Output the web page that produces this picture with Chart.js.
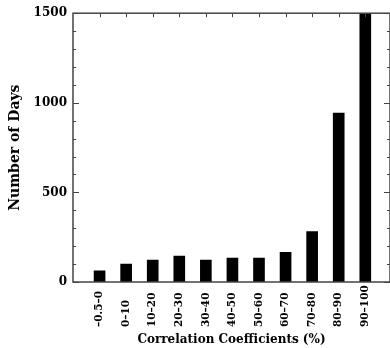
<!DOCTYPE html>
<html>
<head>
<meta charset="utf-8">
<script src="https://cdn.jsdelivr.net/npm/chart.js@4/dist/chart.umd.min.js"></script>
<style>
  html, body { margin: 0; padding: 0; background: #fff; }
  canvas { display: block; }
</style>
</head>
<body>
<canvas id="c" width="390" height="348"></canvas>
<script>
// Correlation-coefficient bins (%) and number of days in each bin
const categories = ['–0.5–0', '0–10', '10–20', '20–30', '30–40', '40–50', '50–60', '60–70', '70–80', '80–90', '90–100'];
const days = [62, 100, 122, 144, 122, 133, 133, 166, 281, 943, 1580];
const yTicks = [0, 500, 1000, 1500];
const yMinorStep = 100;

const SERIF = '"DejaVu Serif", "Liberation Serif", serif';
const AXIS_COLOR = '#444';

// Frame, inward tick marks and rotated bin labels
const framePlugin = {
  id: 'frame',
  afterDatasetsDraw(chart) {
    const { ctx, chartArea: a, scales: { x, y } } = chart;
    ctx.save();
    ctx.strokeStyle = AXIS_COLOR;
    ctx.lineWidth = 1.5;
    ctx.strokeRect(a.left, a.top, a.right - a.left, a.bottom - a.top);

    ctx.lineWidth = 1;
    ctx.beginPath();
    // y ticks on left and right edges
    for (let v = y.min; v <= y.max; v += yMinorStep) {
      const py = Math.round(y.getPixelForValue(v)) + 0.5;
      const len = yTicks.includes(v) ? 6 : 3;
      ctx.moveTo(a.left, py); ctx.lineTo(a.left + len, py);
      ctx.moveTo(a.right, py); ctx.lineTo(a.right - len, py);
    }
    // x ticks along the top edge
    categories.forEach((_, i) => {
      const px = Math.round(x.getPixelForValue(i)) + 0.5;
      ctx.moveTo(px, a.top); ctx.lineTo(px, a.top + 4);
    });
    ctx.stroke();

    // rotated bin labels under the axis
    ctx.fillStyle = '#000';
    ctx.font = 'bold 10.5px ' + SERIF;
    ctx.textAlign = 'left';
    ctx.textBaseline = 'middle';
    categories.forEach((label, i) => {
      const px = x.getPixelForValue(i);
      ctx.save();
      ctx.translate(px, a.bottom + 45);
      ctx.rotate(-Math.PI / 2);
      ctx.fillText(label, 0, 0);
      ctx.restore();
    });
    ctx.restore();
  }
};

new Chart(document.getElementById('c'), {
  type: 'bar',
  data: {
    datasets: [{
      data: days.map((v, i) => ({ x: i, y: v })),
      backgroundColor: '#000',
      borderWidth: 0,
      barThickness: 11
    }]
  },
  options: {
    responsive: false,
    devicePixelRatio: 1,
    animation: false,
    layout: { padding: { top: 8, right: 0, left: 0, bottom: 0 } },
    plugins: { legend: { display: false }, tooltip: { enabled: false } },
    scales: {
      x: {
        type: 'linear',
        offset: false,
        min: -1,
        max: 10.93,
        grid: { display: false },
        border: { display: false },
        ticks: { display: false },
        title: {
          display: true,
          text: 'Correlation Coefficients (%)',
          color: '#000',
          font: { family: SERIF, size: 12, weight: 'bold' },
          padding: { top: 0, bottom: 1 }
        },
        afterFit(scale) { scale.height = 66; }
      },
      y: {
        min: 0,
        max: 1500,
        grid: { display: false, drawTicks: false },
        border: { display: false },
        ticks: {
          stepSize: 500,
          padding: 6,
          color: '#000',
          font: { family: SERIF, size: 12, weight: 'bold' },
          callback: (v) => String(v)
        },
        title: {
          display: true,
          text: 'Number of Days',
          color: '#000',
          font: { family: SERIF, size: 14, weight: 'bold' },
          padding: { top: 7, bottom: 0 }
        },
        afterFit(scale) { scale.width = 73; }
      }
    }
  },
  plugins: [framePlugin]
});
</script>
</body>
</html>
